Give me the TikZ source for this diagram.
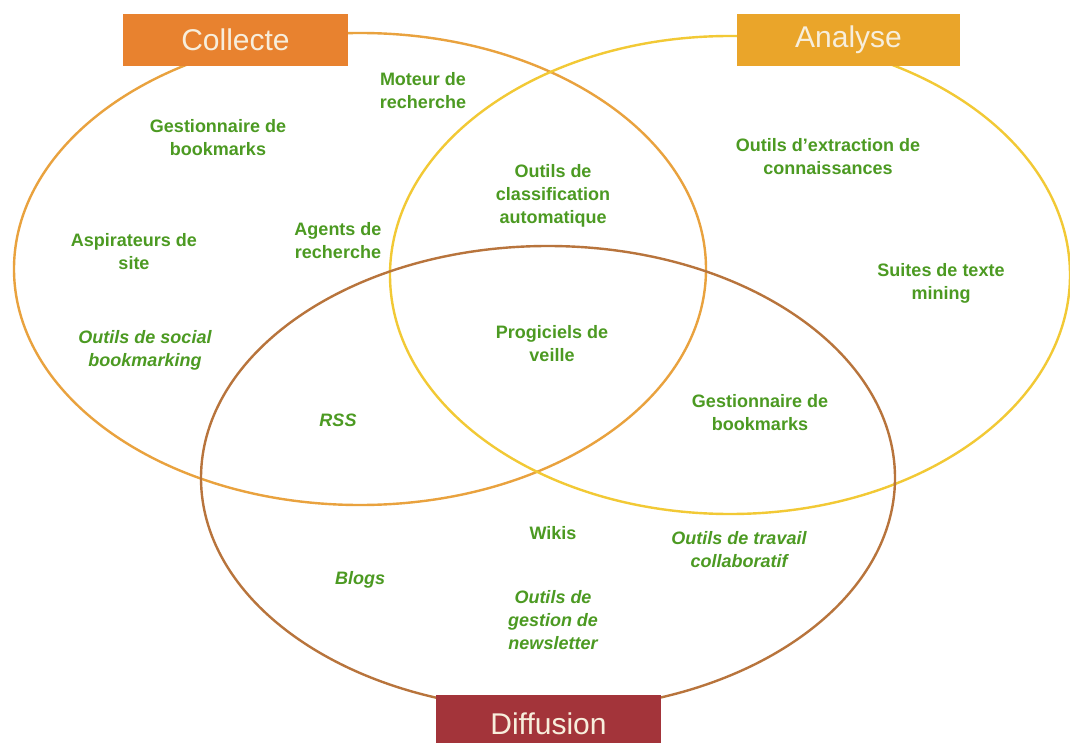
\documentclass[tikz,border=0pt]{standalone}
\usepackage{fontspec}
\setmainfont{Liberation Sans}
\definecolor{collbox}{HTML}{E8822F}
\definecolor{anabox}{HTML}{EAA52A}
\definecolor{diffbox}{HTML}{A3343A}
\definecolor{collline}{HTML}{E9A23E}
\definecolor{analine}{HTML}{F2C935}
\definecolor{diffline}{HTML}{B8743C}
\definecolor{txtgreen}{HTML}{4C9A22}
\definecolor{boxtxt}{HTML}{F7EEDC}
\begin{document}
\begin{tikzpicture}[x=1pt,y=-1pt,
  ring/.style={line width=2.4pt},
  titlebox/.style={minimum width=225pt,minimum height=52pt,inner sep=0pt,text=boxtxt,font=\fontsize{30}{34}\selectfont},
  item/.style={align=center,inner sep=1pt,text=txtgreen,font=\bfseries\fontsize{18}{23}\selectfont},
  itemit/.style={item,font=\bfseries\itshape\fontsize{18}{23}\selectfont}]
\useasboundingbox (0,0) rectangle (1070,743);
\fill[white] (0,0) rectangle (1070,743);
% rings
\draw[ring,collline] (360,269) ellipse [x radius=346pt, y radius=236pt];
\draw[ring,analine] (730,275) ellipse [x radius=340pt, y radius=239pt];
\draw[ring,diffline] (548,478) ellipse [x radius=347pt, y radius=232pt];
% title boxes
\node[titlebox,fill=collbox] (collecte) at (235.5,40) {Collecte};
\node[titlebox,fill=anabox,minimum width=223pt] (analyse) at (848.5,40) {Analyse};
\node[titlebox,fill=diffbox,minimum height=58pt] (diffusion) at (548.5,724) {Diffusion};
% items
\node[item] (moteur) at (423,91) {Moteur de\\recherche};
\node[item] (gestA) at (218,138) {Gestionnaire de\\bookmarks};
\node[item] (classif) at (553,196) {Outils de\\classification\\automatique};
\node[item] (extract) at (828,157) {Outils d'extraction de\\connaissances};
\node[item] (aspir) at (134,252) {Aspirateurs de\\site};
\node[item] (agents) at (338,241) {Agents de\\recherche};
\node[item] (suites) at (941,283) {Suites de texte\\mining};
\node[itemit] (social) at (145,350) {Outils de social\\bookmarking};
\node[item] (progic) at (552,344) {Progiciels de\\veille};
\node[itemit] (rss) at (338,420) {RSS};
\node[item] (gestB) at (760,413) {Gestionnaire de\\bookmarks};
\node[item] (wikis) at (553,533) {Wikis};
\node[itemit] (travail) at (739,550) {Outils de travail\\collaboratif};
\node[itemit] (blogs) at (360,580) {Blogs};
\node[itemit] (newsl) at (553,620) {Outils de\\gestion de\\newsletter};
\end{tikzpicture}
\end{document}
